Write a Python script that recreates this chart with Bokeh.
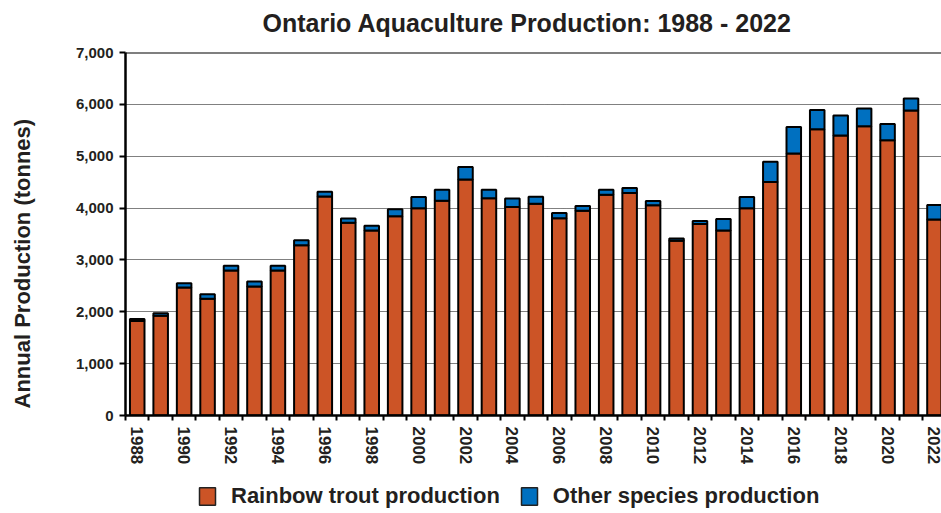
import math
from bokeh.plotting import figure
from bokeh.layouts import column, row
from bokeh.models import (Range1d, FixedTicker, NumeralTickFormatter, Legend, LegendItem,
                          Span, ColumnDataSource)
from bokeh.core.properties import value
from bokeh.embed import file_html
from bokeh.resources import INLINE

years = [1988, 1989, 1990, 1991, 1992, 1993, 1994, 1995, 1996, 1997, 1998, 1999,
         2000, 2001, 2002, 2003, 2004, 2005, 2006, 2007, 2008, 2009, 2010, 2011,
         2012, 2013, 2014, 2015, 2016, 2017, 2018, 2019, 2020, 2021, 2022]
trout = [1820, 1925, 2470, 2250, 2796, 2487, 2796, 3284, 4222, 3715, 3567, 3843,
         3997, 4140, 4550, 4190, 4023, 4081, 3804, 3946, 4255, 4293, 4055, 3370,
         3695, 3567, 3997, 4505, 5051, 5520, 5398, 5578, 5308, 5880, 3779]
other = [40, 45, 80, 90, 90, 95, 90, 95, 95, 85, 90, 135,
         215, 215, 240, 165, 160, 135, 100, 95, 100, 95, 80, 45,
         55, 220, 215, 390, 510, 370, 385, 340, 315, 235, 280]
tick_years = [1988, 1990, 1992, 1994, 1996, 1998, 2000, 2002, 2004, 2006, 2008,
              2010, 2012, 2014, 2016, 2018, 2020, 2022]
y_ticks = [0, 1000, 2000, 3000, 4000, 5000, 6000, 7000]
series_labels = ["Rainbow trout production", "Other species production"]
title_text = "Ontario Aquaculture Production: 1988 - 2022"
y_label_text = "Annual Production (tonnes)"

TROUT_COLOR = "#CC5426"
OTHER_COLOR = "#0070C0"
TEXT = "#231f20"
FONT = "Liberation Sans"


def blank(width, height, xr, yr, **borders):
    opts = dict(min_border_left=0, min_border_right=0, min_border_top=0, min_border_bottom=0)
    opts.update(borders)
    f = figure(width=width, height=height, output_backend="svg", toolbar_location=None,
               x_range=xr, y_range=yr, x_axis_type=None, y_axis_type=None, **opts)
    f.outline_line_color = None
    f.grid.visible = False
    return f


# title strip: its frame is aligned with the legend strip's frame (197..841 px)
tf = blank(941, 40, Range1d(197, 841), Range1d(40, 0),
           min_border_left=197, min_border_right=100)
tf.text(x=[262], y=[22], text=[title_text], text_font=value(FONT),
        text_font_size=value("25px"), text_font_style="bold", text_color=TEXT,
        text_align="left", text_baseline="middle")

# y-axis label strip: its frame is aligned with the chart frame (page y 52..415)
yf = blank(60, 438, Range1d(0, 60), Range1d(415, 52),
           min_border_top=12, min_border_bottom=63)
yf.text(x=[22], y=[408], text=[y_label_text], angle=math.pi / 2, text_font=value(FONT),
        text_font_size=value("22px"), text_font_style="bold", text_color=TEXT,
        text_align="left", text_baseline="middle")

# main chart
src = ColumnDataSource(dict(year=years, trout=trout, other=other))
p = figure(width=881, height=438, output_backend="svg", toolbar_location=None,
           x_range=Range1d(1987.5, 2022.3), y_range=Range1d(0, 7000),
           min_border_left=65, min_border_right=0, min_border_top=12,
           min_border_bottom=63)
p.outline_line_color = None
p.background_fill_color = "white"

rs = p.vbar_stack(["trout", "other"], x="year", width=0.62, source=src,
                  color=[TROUT_COLOR, OTHER_COLOR], line_color="black", line_width=2)

p.xgrid.grid_line_color = None
p.ygrid.ticker = FixedTicker(ticks=y_ticks)
p.ygrid.grid_line_color = "black"
p.ygrid.grid_line_dash = "1 1"
p.ygrid.grid_line_width = 1
p.add_layout(Span(location=7000, dimension="width", line_color="black", line_width=2))

xa = p.xaxis[0]
xa.ticker = FixedTicker(ticks=tick_years, minor_ticks=[y - 0.5 for y in years] + [2022.5])
xa.major_label_orientation = "vertical"
xa.major_tick_out = 0
xa.major_tick_in = 0
xa.minor_tick_out = 5
xa.minor_tick_in = 0
xa.minor_tick_line_width = 2
xa.axis_line_width = 2.5
xa.axis_line_color = "black"
xa.major_label_text_font = FONT
xa.major_label_text_font_size = "17px"
xa.major_label_text_font_style = "bold"
xa.major_label_text_color = TEXT
xa.major_label_standoff = 6

ya = p.yaxis[0]
ya.ticker = FixedTicker(ticks=y_ticks)
ya.formatter = NumeralTickFormatter(format="0,0")
ya.major_tick_out = 6
ya.major_tick_in = 0
ya.major_tick_line_width = 2
ya.minor_tick_out = 0
ya.minor_tick_in = 0
ya.axis_line_width = 2.5
ya.axis_line_color = "black"
ya.major_label_text_font = FONT
ya.major_label_text_font_size = "15px"
ya.major_label_text_font_style = "bold"
ya.major_label_text_color = TEXT
ya.major_label_standoff = 6

# legend strip (hidden proxy renderers; legend drawn without the inactive overlay)
p2 = blank(941, 35, Range1d(0, 1), Range1d(0, 1),
           min_border_left=197, min_border_right=100, min_border_top=5)
l1 = p2.vbar(x=[5], top=[5], bottom=[4], width=0.5, fill_color=TROUT_COLOR,
             line_color="#222222", line_width=1.5)
l2 = p2.vbar(x=[5], top=[5], bottom=[4], width=0.5, fill_color=OTHER_COLOR,
             line_color="#222222", line_width=1.5)
l1.visible = False
l2.visible = False

legend = Legend(items=[LegendItem(label=series_labels[0], renderers=[l1]),
                       LegendItem(label=series_labels[1], renderers=[l2])],
                orientation="horizontal", location="top_left")
legend.label_text_font = FONT
legend.label_text_font_size = "22px"
legend.label_text_font_style = "bold"
legend.label_text_color = TEXT
legend.glyph_width = 20
legend.glyph_height = 22
legend.label_standoff = 14
legend.spacing = 19
legend.padding = 4
legend.margin = 0
legend.border_line_color = None
legend.background_fill_alpha = 0
legend.inactive_fill_alpha = 0
p2.add_layout(legend, "center")

layout = column(tf, row(yf, p, spacing=0), p2, spacing=0)
open("out.html", "w").write(file_html(layout, INLINE))
